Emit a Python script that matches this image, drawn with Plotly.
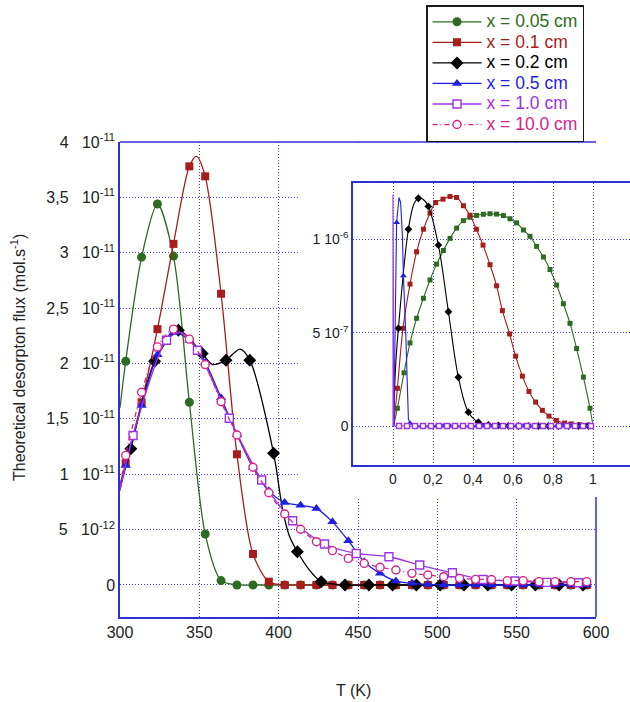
import plotly.graph_objects as go

W, H = 630, 702

# ---------------------------------------------------------------------------
# Main panel: theoretical desorption flux versus temperature
# flux values are given in units of 1e-11 mol/s
# ---------------------------------------------------------------------------
UNIT = 1e-11

# marker temperatures (K)
T_10 = [303.6, 313.6, 323.6, 333.7, 343.7, 353.7, 363.7, 373.7, 383.8, 393.8,
        403.8, 413.8, 423.8, 433.9, 443.9, 453.9, 463.9, 473.9, 484.0, 494.0,
        504.0, 514.0, 524.1, 534.1, 544.1, 554.1, 564.1, 574.2, 584.2, 594.2]
T_15 = [306.8, 321.8, 336.8, 351.8, 366.8, 381.8, 396.8, 411.8, 426.8, 441.8,
        456.8, 471.8, 486.8, 501.8, 516.8, 531.8, 546.8, 561.8, 576.8, 591.8]
T_20 = [308.2, 329.3, 348.8, 368.9, 389.3, 408.8, 428.9, 448.9, 469.5, 488.9,
        509.5, 528.8, 548.9, 568.9, 588.9]

flux_005 = [2.02, 2.96, 3.44, 2.97, 1.65, 0.46, 0.04, 0, 0, 0,
            0, 0, 0, 0, 0, 0, 0, 0, 0, 0,
            0, 0, 0, 0, 0, 0, 0, 0, 0, 0]
flux_01 = [1.10, 1.65, 2.31, 3.08, 3.78, 3.69, 2.63, 1.18, 0.28, 0.03,
           0, 0, 0, 0, 0, 0, 0, 0, 0, 0,
           0, 0, 0, 0, 0, 0, 0, 0, 0, 0]
flux_02 = [1.23, 2.02, 2.30, 2.09, 2.03, 2.03, 1.19, 0.30, 0.03, 0,
           0, 0, 0, 0, 0, 0, 0, 0, 0, 0]
flux_05 = [1.08, 1.62, 2.08, 2.28, 2.21, 2.01, 1.69, 1.36, 1.06, 0.85,
           0.745, 0.72, 0.69, 0.57, 0.40, 0.21, 0.105, 0.036, 0.015, 0.005,
           0, 0, 0, 0, 0, 0, 0, 0, 0, 0]
flux_10 = [1.35, 2.21, 2.12, 1.505, 0.948, 0.58, 0.37, 0.285, 0.255, 0.18,
           0.11, 0.05, 0.036, 0.024, 0.02]
flux_100 = [1.17, 1.74, 2.15, 2.31, 2.22, 1.99, 1.655, 1.354, 1.063, 0.833,
            0.641, 0.503, 0.391, 0.31, 0.24, 0.195, 0.16, 0.135, 0.105, 0.09,
            0.075, 0.06, 0.051, 0.05, 0.039, 0.039, 0.03, 0.03, 0.03, 0.03]

# extra points along the curves between the markers
curve_005_T, curve_005 = [300.0], [1.60]
curve_01_T, curve_01 = [300.0, 348.2], [0.90, 3.87]
curve_02_T, curve_02 = [300.0, 358.4, 375.6, 402.5, 406.8, 419.4], [0.88, 1.99, 2.13, 0.68, 0.44, 0.135]
curve_05_T, curve_05 = [300.0], [0.90]
curve_10_T, curve_10 = [300.0, 338.5], [0.85, 2.28]
curve_100_T, curve_100 = [300.0], [0.88]

# ---------------------------------------------------------------------------
# Inset: profiles versus reduced depth (values in units of 1e-6)
# ---------------------------------------------------------------------------
IUNIT = 1e-6

depth_005 = [0.022, 0.055, 0.085, 0.118, 0.152, 0.185, 0.218, 0.252, 0.285, 0.318,
             0.352, 0.385, 0.418, 0.452, 0.485, 0.518, 0.552, 0.585, 0.618, 0.652,
             0.685, 0.718, 0.752, 0.785, 0.818, 0.852, 0.885, 0.918, 0.952, 0.985]
prof_005 = [0.095, 0.285, 0.445, 0.577, 0.684, 0.782, 0.867, 0.94, 1.005, 1.06,
            1.10, 1.118, 1.128, 1.134, 1.137, 1.135, 1.127, 1.11, 1.088, 1.05,
            1.016, 0.962, 0.905, 0.838, 0.755, 0.655, 0.55, 0.415, 0.262, 0.095]
depth_01 = [0.022, 0.05, 0.085, 0.118, 0.152, 0.185, 0.213, 0.25, 0.285, 0.318,
            0.352, 0.385, 0.417, 0.45, 0.485, 0.518, 0.547, 0.583, 0.613, 0.647,
            0.68, 0.713, 0.747, 0.78, 0.817, 0.858, 0.892, 0.933, 0.975]
prof_01 = [0.202, 0.523, 0.76, 0.933, 1.054, 1.14, 1.197, 1.215, 1.229, 1.224,
           1.18, 1.129, 1.054, 0.969, 0.864, 0.751, 0.618, 0.493, 0.374, 0.267,
           0.185, 0.128, 0.084, 0.053, 0.03, 0.016, 0.011, 0.007, 0.004]
depth_02 = [0.027, 0.077, 0.127, 0.177, 0.227, 0.277, 0.327, 0.377, 0.427, 0.477,
            0.527, 0.577, 0.627, 0.677, 0.727, 0.777, 0.827, 0.877, 0.927, 0.977]
prof_02 = [0.523, 1.054, 1.22, 1.176, 0.969, 0.612, 0.261, 0.074, 0.02, 0.006,
           0.003, 0.001, 0, 0, 0, 0, 0, 0, 0, 0]
depth_05 = [0.018, 0.052, 0.085, 0.118, 0.152, 0.185, 0.218, 0.252, 0.285, 0.318,
            0.352, 0.385, 0.418, 0.452, 0.485, 0.518, 0.552, 0.585, 0.618, 0.652,
            0.685, 0.718, 0.752, 0.785, 0.818, 0.852, 0.885, 0.918, 0.952, 0.985]
prof_05 = [1.09, 0.805, 0.015, 0, 0, 0, 0, 0, 0, 0,
           0, 0, 0, 0, 0, 0, 0, 0, 0, 0,
           0, 0, 0, 0, 0, 0, 0, 0, 0, 0]
depth_10 = [0.03, 0.07, 0.11, 0.15, 0.19, 0.23, 0.27, 0.31, 0.35, 0.39,
            0.43, 0.47, 0.51, 0.55, 0.59, 0.63, 0.67, 0.71, 0.75, 0.79,
            0.83, 0.87, 0.91, 0.95, 0.99]
prof_10 = [0] * 25

# extra points along the inset curves
icurve_005_x, icurve_005 = [0.003, 1.0], [0.0, 0.0]
icurve_01_x, icurve_01 = [0.003], [0.0]
icurve_02_x, icurve_02 = [0.003, 0.012, 0.105, 0.15], [0.0, 0.30, 1.19, 1.215]
icurve_05_x, icurve_05 = [0.004, 0.03, 0.038, 0.047, 0.063, 0.07, 0.077], [0.0, 1.224, 1.197, 1.02, 0.52, 0.217, 0.038]
icurve_10_x, icurve_10 = [0.0, 0.0, 0.004], [0.0, 1.24, 0.0]

# ---------------------------------------------------------------------------
GREEN = "#2f6a22"
RED = "#a51d1d"
BLACK = "#000000"
BLUE = "#1f1fe0"
PURPLE = "#9a34e6"
MAGENTA = "#d9228a"
FRAME = "#2f2fd8"
GRID = "#3c3cf0"

series = [
    # label, color, symbol, filled, size, dash, T, flux, extra T, extra flux,
    # inset x, inset y, inset extra x, inset extra y, inset line shape, inset symbol, inset size
    ("x = 0.05 cm", GREEN, "circle", True, 9, "solid", T_10, flux_005, curve_005_T, curve_005,
     depth_005, prof_005, icurve_005_x, icurve_005, "spline", "square", 5),
    ("x = 0.1 cm", RED, "square", True, 8, "solid", T_10, flux_01, curve_01_T, curve_01,
     depth_01, prof_01, icurve_01_x, icurve_01, "spline", "square", 5),
    ("x = 0.2 cm", BLACK, "diamond", True, 10, "solid", T_15, flux_02, curve_02_T, curve_02,
     depth_02, prof_02, icurve_02_x, icurve_02, "spline", "diamond", 6),
    ("x = 0.5 cm", BLUE, "triangle-up", True, 9, "solid", T_10, flux_05, curve_05_T, curve_05,
     depth_05, prof_05, icurve_05_x, icurve_05, "linear", "triangle-up", 6),
    ("x = 1.0 cm", PURPLE, "square", False, 8, "solid", T_20, flux_10, curve_10_T, curve_10,
     depth_10, prof_10, icurve_10_x, icurve_10, "linear", "square", 5),
    ("x = 10.0 cm", MAGENTA, "circle", False, 8, "5px,3px,1px,3px", T_10, flux_100, curve_100_T, curve_100,
     None, None, None, None, None, None, None),
]


def merged(xa, ya, xb, yb):
    pts = sorted(zip(list(xa) + list(xb), list(ya) + list(yb)), key=lambda p: p[0])
    return [p[0] for p in pts], [p[1] for p in pts]


def marker_style(color, symbol, filled, size):
    if filled:
        return dict(symbol=symbol, size=size, color=color, line=dict(width=0))
    return dict(symbol=symbol, size=size, color="white", line=dict(color=color, width=1.4))


fig = go.Figure()

# blank panel behind the inset (hides the main grid there)
fig.add_trace(go.Scatter(x=[None], y=[None], xaxis="x2", yaxis="y2",
                         showlegend=False, hoverinfo="skip"))

for (label, color, symbol, filled, size, dash, Tm, fm, Tx, fx,
     ix, iy, iex, iey, ishape, isym, isize) in series:
    lx, ly = merged(Tm, fm, Tx, fx)
    fig.add_trace(go.Scatter(
        x=lx, y=[v * UNIT for v in ly], mode="lines",
        line=dict(color=color, width=1.3, shape="spline", smoothing=0.8, dash=dash),
        showlegend=False, hoverinfo="skip"))
    fig.add_trace(go.Scatter(
        x=Tm, y=[v * UNIT for v in fm], mode="markers",
        marker=marker_style(color, symbol, filled, size),
        showlegend=False))
    # legend entry
    fig.add_trace(go.Scatter(
        x=[None], y=[None], mode="lines+markers",
        name=f'<span style="font-size:17.5px;color:{color}">{label}</span>',
        line=dict(color=color, width=1.3, dash=dash),
        marker=marker_style(color, symbol, filled, size)))

for (label, color, symbol, filled, size, dash, Tm, fm, Tx, fx,
     ix, iy, iex, iey, ishape, isym, isize) in series:
    if ix is None:
        continue
    lx, ly = merged(ix, iy, iex, iey)
    fig.add_trace(go.Scatter(
        x=lx, y=[v * IUNIT for v in ly], mode="lines", xaxis="x3", yaxis="y3",
        line=dict(color=color, width=1.1, shape=ishape),
        showlegend=False, hoverinfo="skip"))
    fig.add_trace(go.Scatter(
        x=ix, y=[v * IUNIT for v in iy], mode="markers", xaxis="x3", yaxis="y3",
        marker=marker_style(color, isym, filled, isize),
        showlegend=False))

# axis ticks
GAP = "\u00a0\u00a0\u00a0"
x_ticks = [300, 350, 400, 450, 500, 550, 600]
y_ticks = [0, 0.5, 1, 1.5, 2, 2.5, 3, 3.5, 4]
y_ticktext = ["0", f"5{GAP}10<sup>-12</sup>", f"1{GAP}10<sup>-11</sup>", f"1,5{GAP}10<sup>-11</sup>",
              f"2{GAP}10<sup>-11</sup>", f"2,5{GAP}10<sup>-11</sup>", f"3{GAP}10<sup>-11</sup>",
              f"3,5{GAP}10<sup>-11</sup>", f"4{GAP}10<sup>-11</sup>"]
ix_ticks = [0, 0.2, 0.4, 0.6, 0.8, 1]
ix_ticktext = ["0", "0,2", "0,4", "0,6", "0,8", "1"]
iy_ticks = [0, 0.5, 1]
iy_ticktext = ["0", "5 10<sup>-7</sup>", "1 10<sup>-6</sup>"]

grid = dict(showgrid=True, gridcolor=GRID, gridwidth=1, griddash="1px,2px",
            zeroline=False, ticks="", automargin=False)

fig.update_layout(
    width=W, height=H,
    margin=dict(l=0, r=0, t=0, b=0, autoexpand=False),
    paper_bgcolor="white", plot_bgcolor="white",
    font=dict(family="Liberation Sans, Arial, sans-serif", size=16, color="#222222"),
    showlegend=True,
    legend=dict(x=426 / W, y=1 - 5 / H, xanchor="left", yanchor="top",
                bgcolor="white", bordercolor="#1a1a1a", borderwidth=1.5,
                font=dict(size=13.5), itemwidth=49, tracegroupgap=0),
    xaxis=dict(domain=[120 / W, 596 / W], range=[300, 600], anchor="y",
               tickvals=x_ticks, tickfont=dict(size=16),
               showline=True, linecolor=FRAME, linewidth=1.5, **grid),
    yaxis=dict(domain=[1 - 617 / H, 1 - 142 / H], range=[-0.289 * UNIT, 4 * UNIT], anchor="x",
               tickvals=[v * UNIT for v in y_ticks], ticktext=y_ticktext,
               tickfont=dict(size=16),
               showline=True, linecolor=FRAME, linewidth=1.5, **grid),
    xaxis2=dict(domain=[298 / W, 1], anchor="y2", range=[0, 1], visible=False),
    yaxis2=dict(domain=[1 - 497 / H, 1 - 143.5 / H], anchor="x2", range=[0, 1], visible=False),
    xaxis3=dict(domain=[353 / W, 1], anchor="y3", range=[-0.2, 1.185],
                tickvals=ix_ticks, ticktext=ix_ticktext, tickfont=dict(size=14),
                showline=True, mirror=True, linecolor=FRAME, linewidth=1.5, **grid),
    yaxis3=dict(domain=[1 - 465 / H, 1 - 183 / H], anchor="x3",
                range=[-0.2089 * IUNIT, 1.3016 * IUNIT],
                tickvals=[v * IUNIT for v in iy_ticks], ticktext=iy_ticktext,
                tickfont=dict(size=14),
                showline=True, linecolor=FRAME, linewidth=1.5, **grid),
    shapes=[
        dict(type="line", xref="paper", yref="paper", x0=120 / W, x1=596 / W,
             y0=1 - 142 / H, y1=1 - 142 / H, line=dict(color=FRAME, width=1.5), layer="above"),
        dict(type="line", xref="paper", yref="paper", x0=596 / W, x1=596 / W,
             y0=1 - 617 / H, y1=1 - 497 / H, line=dict(color=FRAME, width=1.5), layer="above"),
    ],
    annotations=[
        dict(text="Theoretical desorpton flux (mol.s<sup>-1</sup>)", xref="paper", yref="paper",
             x=18 / W, y=1 - 358 / H, textangle=-90, showarrow=False,
             xanchor="center", yanchor="middle", font=dict(size=16)),
        dict(text="T (K)", xref="paper", yref="paper", x=353 / W, y=1 - 690 / H,
             showarrow=False, xanchor="center", yanchor="middle", font=dict(size=16)),
    ],
)

fig.write_html("out.html")
